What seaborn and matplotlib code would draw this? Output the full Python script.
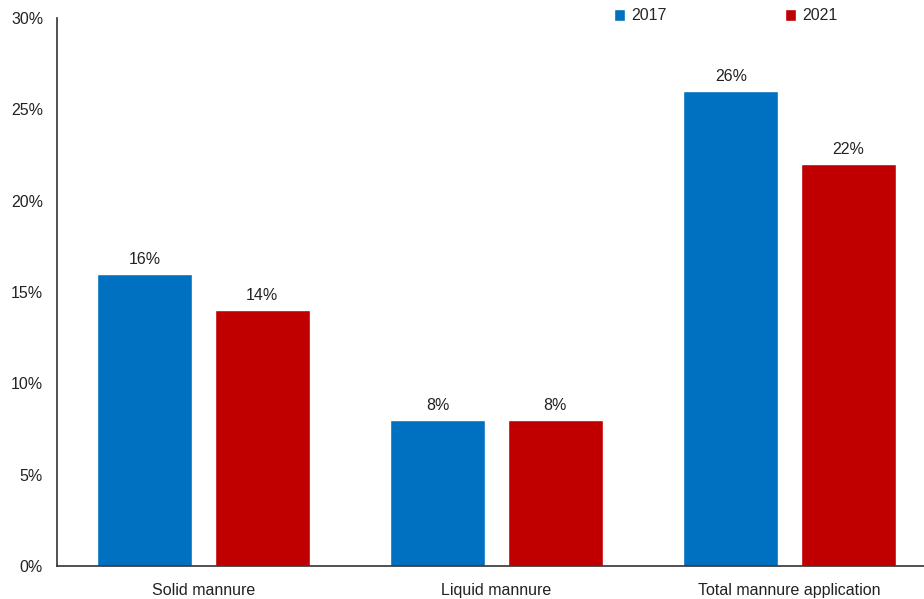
import matplotlib

matplotlib.use("Agg")
import matplotlib.pyplot as plt
import matplotlib.ticker as mticker
import pandas as pd
import seaborn as sns

categories = ["Solid mannure", "Liquid mannure", "Total mannure application"]
years = ["2017", "2021"]
values_2017 = [16, 8, 26]
values_2021 = [14, 8, 22]
colors = {"2017": "#0070C0", "2021": "#C00000"}


def main():
    sns.set_style("white")
    plt.rcParams["font.family"] = ["Liberation Sans", "DejaVu Sans"]
    plt.rcParams["font.size"] = 11

    df = pd.DataFrame(
        {
            "category": categories * 2,
            "year": [years[0]] * 3 + [years[1]] * 3,
            "share": values_2017 + values_2021,
        }
    )

    fig = plt.figure(figsize=(9.24, 5.99), dpi=100)
    ax = fig.add_axes([57 / 924, 33 / 599, 879 / 924, 548 / 599])

    sns.barplot(
        data=df,
        x="category",
        y="share",
        hue="year",
        palette=colors,
        gap=0.19,
        saturation=1,
        ax=ax,
    )

    for container in ax.containers:
        ax.bar_label(container, fmt="%d%%", padding=5, fontsize=11.5, color="#222222")

    ax.set_ylim(0, 30)
    ax.set_xlim(-0.5, 2.5)
    ax.yaxis.set_major_locator(mticker.MultipleLocator(5))
    ax.yaxis.set_major_formatter(mticker.FuncFormatter(lambda v, _: f"{v:.0f}%"))
    ax.set_xlabel("")
    ax.set_ylabel("")
    ax.tick_params(axis="both", length=0, labelsize=11.5, colors="#222222")
    ax.tick_params(axis="y", pad=10)
    ax.tick_params(axis="x", pad=12)

    for side in ["top", "right"]:
        ax.spines[side].set_visible(False)
    for side in ["left", "bottom"]:
        ax.spines[side].set_color("#333333")
        ax.spines[side].set_linewidth(1.2)

    ax.legend(
        loc="center left",
        bbox_to_anchor=(614 / 924, 1 - 16 / 599),
        bbox_transform=fig.transFigure,
        ncol=2,
        frameon=False,
        handlelength=0.7,
        handleheight=0.7,
        handletextpad=0.4,
        columnspacing=7.4,
        fontsize=11.5,
        borderaxespad=0,
        borderpad=0,
    )

    fig.savefig("out.png", dpi=100)


if __name__ == "__main__":
    main()
